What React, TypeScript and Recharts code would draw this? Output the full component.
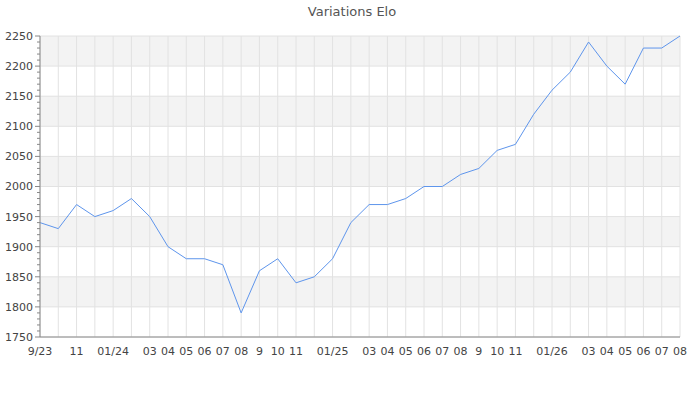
import { LineChart, Line, XAxis, YAxis, CartesianGrid } from 'recharts'

// one point per month, Sep 2023 -> Aug 2026
const months = [
  '2023-09', '2023-10', '2023-11', '2023-12',
  '2024-01', '2024-02', '2024-03', '2024-04', '2024-05', '2024-06',
  '2024-07', '2024-08', '2024-09', '2024-10', '2024-11', '2024-12',
  '2025-01', '2025-02', '2025-03', '2025-04', '2025-05', '2025-06',
  '2025-07', '2025-08', '2025-09', '2025-10', '2025-11', '2025-12',
  '2026-01', '2026-02', '2026-03', '2026-04', '2026-05', '2026-06',
  '2026-07', '2026-08',
]

// labels as shown under the axis (empty = hidden to avoid overlap)
const tickLabels = [
  '9/23', '', '11', '',
  '01/24', '', '03', '04', '05', '06',
  '07', '08', '9', '10', '11', '',
  '01/25', '', '03', '04', '05', '06',
  '07', '08', '9', '10', '11', '',
  '01/26', '', '03', '04', '05', '06',
  '07', '08',
]

const elo = [
  1940, 1930, 1970, 1950,
  1960, 1980, 1950, 1900, 1880, 1880,
  1870, 1790, 1860, 1880, 1840, 1850,
  1880, 1940, 1970, 1970, 1980, 2000,
  2000, 2020, 2030, 2060, 2070, 2120,
  2160, 2190, 2240, 2200, 2170, 2230,
  2230, 2250,
]

const majorTicks = [1750, 1800, 1850, 1900, 1950, 2000, 2050, 2100, 2150, 2200, 2250]
const minorTicks = Array.from({ length: 51 }, (_, i) => 1750 + i * 10)

const data = months.map((m, i) => ({ month: m, elo: elo[i] }))

const FONT = '"DejaVu Sans", Verdana, sans-serif'
const AXIS = '#888'

function YTick({ x, y, payload }: any) {
  const major = payload.value % 50 === 0
  const ax = x + 7
  return (
    <g>
      <line x1={ax - (major ? 5 : 3)} x2={ax} y1={y} y2={y} stroke={AXIS} />
      {major && (
        <text x={x} y={y} dy="0.355em" textAnchor="end" fontSize={11} fill="#444" fontFamily={FONT}>
          {payload.value}
        </text>
      )}
    </g>
  )
}

export default function App() {
  return (
    <div style={{ position: 'absolute', left: 0, top: 0, width: 700, height: 400, background: '#fff', fontFamily: FONT }}>
      <div style={{ position: 'absolute', left: 0, top: 4, width: 704, textAlign: 'center', fontSize: 13, color: '#555' }}>
        Variations Elo
      </div>
      <LineChart width={700} height={400} data={data} margin={{ top: 36, right: 20, left: 0, bottom: 33 }}>
        <CartesianGrid
          stroke="#e2e2e2"
          horizontalValues={majorTicks}
          horizontalFill={['#f3f3f3', '#ffffff']}
        />
        <XAxis
          dataKey="month"
          interval={0}
          tickLine={false}
          tickSize={8}
          tickMargin={2}
          height={30}
          stroke={AXIS}
          tick={{ fontSize: 11, fill: '#444', fontFamily: FONT }}
          tickFormatter={(_v: string, i: number) => tickLabels[i]}
        />
        <YAxis
          type="number"
          domain={[1750, 2250]}
          ticks={minorTicks}
          interval={0}
          width={40}
          tickLine={false}
          tickSize={5}
          tickMargin={2}
          stroke={AXIS}
          tick={<YTick />}
        />
        <Line
          type="linear"
          dataKey="elo"
          stroke="#5e95ec"
          strokeWidth={1}
          dot={false}
          isAnimationActive={false}
        />
      </LineChart>
    </div>
  )
}
